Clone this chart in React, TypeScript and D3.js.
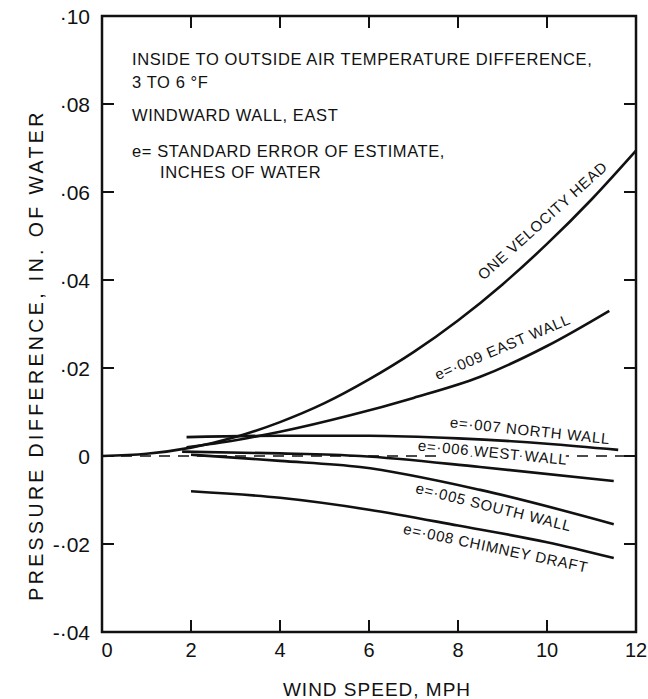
import React from 'react'
import * as d3 from 'd3'

// wind speed (mph) / pressure difference (in. of water)
const headX = [0, 1, 2, 3, 4, 5, 6, 7, 8, 9, 10, 11, 12];
const headY = [0, 0.0005, 0.0019, 0.0043, 0.0077, 0.012, 0.0174, 0.0236, 0.0308, 0.039, 0.0482, 0.0583, 0.0694];

const eastX = [1.9, 3, 4, 5.6, 7, 8.5, 10, 11.4];
const eastY = [0.002, 0.0036, 0.0055, 0.0093, 0.0132, 0.018, 0.025, 0.033];

const northX = [1.9, 4, 6, 8, 10, 11.6];
const northY = [0.0043, 0.0046, 0.0046, 0.004, 0.0028, 0.0014];

const westX = [1.8, 4, 5.8, 8.5, 11.5];
const westY = [0.001, 0.0006, 0, -0.0025, -0.0057];

const southX = [2, 4, 5.8, 8.5, 11.5];
const southY = [0.0003, -0.0011, -0.0025, -0.0077, -0.0155];

const chimneyX = [2, 4, 6, 8, 10, 11.5];
const chimneyY = [-0.008, -0.0095, -0.0122, -0.0158, -0.0196, -0.0232];

const curveNames = ['ONE VELOCITY HEAD', 'e=·009  EAST  WALL', 'e=·007  NORTH  WALL', 'e=·006  WEST  WALL', 'e=·005  SOUTH  WALL', 'e=·008  CHIMNEY  DRAFT'];
// label anchor (x, y in data units) and rotation
const labelX = [9.9, 9.0, 9.62, 8.78, 8.8, 8.85];
const labelY = [0.0535, 0.0248, 0.0058, 0.0008, -0.0116, -0.0209];
const labelAngle = [-42, -23, 6, 5.5, 14, 12];

const xTicks = [0, 2, 4, 6, 8, 10, 12];
const yTicks = [-0.04, -0.02, 0, 0.02, 0.04, 0.06, 0.08, 0.1];
const yTickLabels = ['-·04', '-·02', '0', '·02', '·04', '·06', '·08', '·10'];

const notes = [
  'INSIDE TO OUTSIDE AIR TEMPERATURE DIFFERENCE,',
  '3 TO  6 °F',
  'WINDWARD  WALL, EAST',
  'e= STANDARD  ERROR  OF  ESTIMATE,',
  'INCHES  OF  WATER',
];

const width = 648;
const height = 699;
const font = "'Liberation Sans', Arial, sans-serif";

const x = d3.scaleLinear().domain([0, 12]).range([102, 636]);
const y = d3.scaleLinear().domain([-0.04, 0.1]).range([632, 16]);

const line = d3.line<[number, number]>()
  .x(d => x(d[0]))
  .y(d => y(d[1]))
  .curve(d3.curveMonotoneX);

const zip = (xs: number[], ys: number[]) => xs.map((v, i) => [v, ys[i]] as [number, number]);

const series = [
  zip(headX, headY),
  zip(eastX, eastY),
  zip(northX, northY),
  zip(westX, westY),
  zip(southX, southY),
  zip(chimneyX, chimneyY),
];

const tickLen = 12;

const App = () => {
  const [x0, x1] = x.range();
  const [y0, y1] = y.range();
  const inner = xTicks.slice(1, -1);
  const innerY = yTicks.slice(1, -1);

  return (
    <div>
      <style>{'body{margin:0}'}</style>
      <svg width={width} height={height} style={{ display: 'block', background: '#fff' }}>
        <g fill="none" stroke="#111" strokeWidth={2.5}>
          <rect x={x0} y={y1} width={x1 - x0} height={y0 - y1} />
          {inner.map(t => (
            <g key={'xt' + t}>
              <line x1={x(t)} x2={x(t)} y1={y0} y2={y0 - tickLen} strokeWidth={2} />
              <line x1={x(t)} x2={x(t)} y1={y1} y2={y1 + tickLen} strokeWidth={2} />
            </g>
          ))}
          {innerY.map(t => (
            <g key={'yt' + t}>
              <line x1={x0} x2={x0 + tickLen} y1={y(t)} y2={y(t)} strokeWidth={2} />
              <line x1={x1} x2={x1 - tickLen} y1={y(t)} y2={y(t)} strokeWidth={2} />
            </g>
          ))}
          <line x1={x(0)} x2={x(12)} y1={y(0)} y2={y(0)} strokeWidth={1.6} strokeDasharray="11,8" />
        </g>

        <g fontFamily={font} fill="#111">
          {yTicks.map((t, i) => (
            <text key={t} x={90} y={y(t)} dy="0.36em" textAnchor="end" fontSize={21}>
              {yTickLabels[i]}
            </text>
          ))}
          {xTicks.map(t => (
            <text key={t} x={x(t) + (t === 0 ? 5 : 0)} y={657} textAnchor="middle" fontSize={20}>
              {t}
            </text>
          ))}
          <text x={377} y={696} textAnchor="middle" fontSize={19} letterSpacing={1}>
            WIND SPEED, MPH
          </text>
          <text
            transform={`translate(43,355) rotate(-90)`}
            textAnchor="middle"
            fontSize={19.5}
            letterSpacing={3.4}
          >
            PRESSURE  DIFFERENCE,  IN.  OF  WATER
          </text>

          {notes.map((n, i) => (
            <text
              key={i}
              x={i === 4 ? 160 : 132}
              y={[65, 88, 121, 157, 178][i]}
              fontSize={16.5}
              letterSpacing={0.6}
            >
              {n}
            </text>
          ))}

          {curveNames.map((n, i) => (
            <text
              key={n}
              transform={`translate(${x(labelX[i])},${y(labelY[i])}) rotate(${labelAngle[i]})`}
              textAnchor="middle"
              dy="0.35em"
              fontSize={15}
              letterSpacing={0.7}
              stroke="#fff"
              strokeWidth={i === 3 ? 9 : 4}
              strokeLinejoin="round"
              paintOrder="stroke"
            >
              {n}
            </text>
          ))}
        </g>

        <g fill="none" stroke="#111">
          {series.map((s, i) => (
            <path key={i} d={line(s) || ''} strokeWidth={2.6} />
          ))}
        </g>
      </svg>
    </div>
  );
};

export default App;
